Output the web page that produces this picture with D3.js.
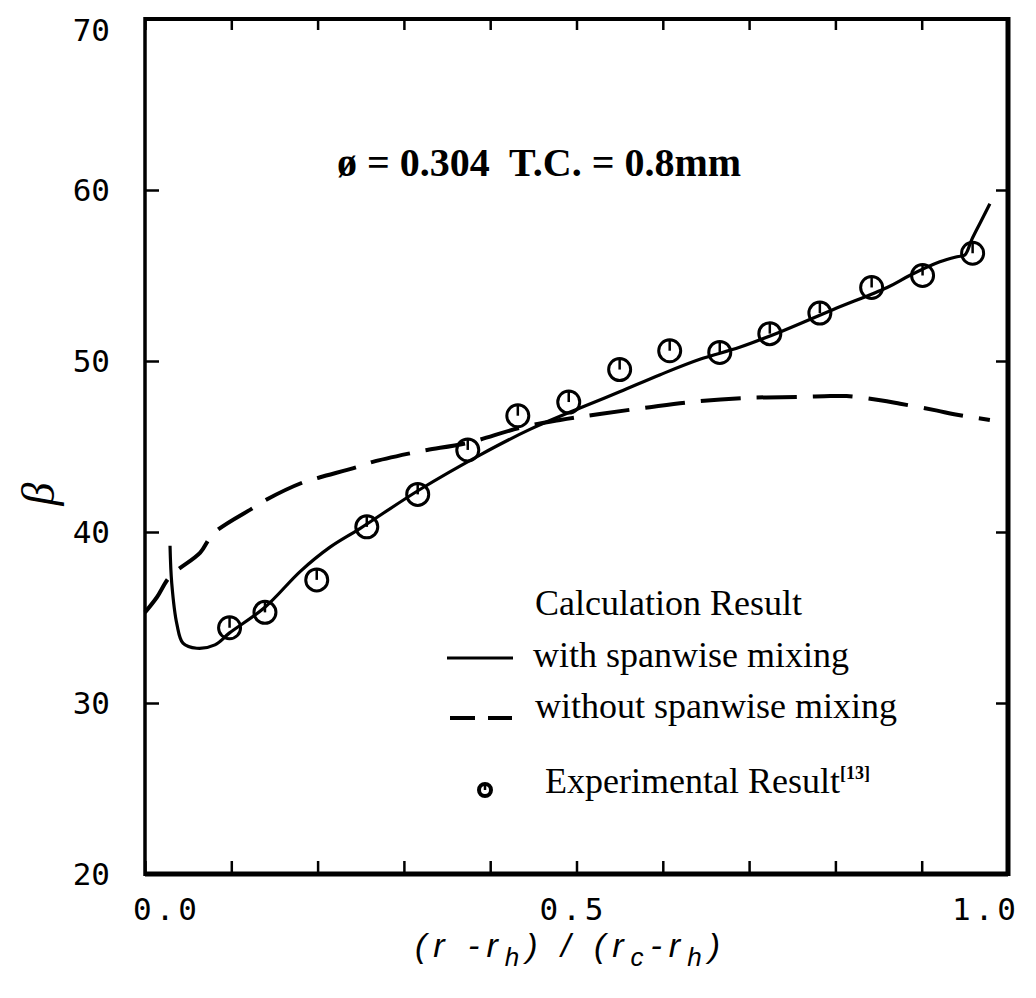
<!DOCTYPE html>
<html>
<head>
<meta charset="utf-8">
<script src="https://cdn.jsdelivr.net/npm/d3@7"></script>
<style>
  body { margin: 0; background: #fff; }
  svg { display: block; }
</style>
</head>
<body>
<div id="chart"></div>
<script>
// experimental points (circles)
var expX = [0.098, 0.139, 0.199, 0.257, 0.316, 0.374, 0.432, 0.491, 0.55, 0.608, 0.666, 0.724, 0.782, 0.842, 0.901, 0.959];
var expY = [34.4, 35.3, 37.2, 40.3, 42.2, 44.8, 46.8, 47.6, 49.5, 50.6, 50.5, 51.6, 52.8, 54.3, 55.0, 56.3];

// calculation with spanwise mixing (solid)
var withX = [0.029, 0.031, 0.037, 0.044, 0.06, 0.081, 0.098, 0.139, 0.18, 0.214, 0.249, 0.319, 0.388, 0.446, 0.504, 0.55, 0.597, 0.643, 0.689, 0.736, 0.797, 0.86, 0.886, 0.921, 0.941, 0.95, 0.958, 0.968, 0.979];
var withY = [39.2, 37.0, 34.6, 33.5, 33.2, 33.4, 34.1, 35.6, 37.7, 39.1, 40.2, 42.5, 44.5, 46.0, 47.25, 48.2, 49.2, 50.1, 50.8, 51.7, 53.0, 54.3, 55.0, 55.8, 56.1, 56.2, 57.1, 58.1, 59.2];

// calculation without spanwise mixing (dashed)
var withoutX = [0.0, 0.014, 0.029, 0.064, 0.079, 0.125, 0.141, 0.183, 0.203, 0.246, 0.264, 0.307, 0.327, 0.373, 0.435, 0.481, 0.527, 0.585, 0.643, 0.701, 0.759, 0.794, 0.813, 0.852, 0.875, 0.918, 0.936, 0.979];
var withoutY = [35.3, 36.2, 37.4, 38.8, 39.9, 41.4, 41.9, 42.9, 43.2, 43.8, 44.1, 44.6, 44.8, 45.2, 46.1, 46.55, 46.9, 47.3, 47.65, 47.85, 47.9, 47.95, 47.95, 47.7, 47.5, 47.1, 46.9, 46.55];

var yTicks = [20, 30, 40, 50, 60, 70];
var xLabels = [0, 0.5, 1.0];

var W = 1036, H = 998;
var x = d3.scaleLinear().domain([0, 1]).range([145, 1008]);
var y = d3.scaleLinear().domain([20, 70]).range([874, 19]);

var svg = d3.select("#chart").append("svg")
  .attr("width", W)
  .attr("height", H);

// ticks on all four sides, pointing inward
svg.append("g")
  .attr("transform", "translate(0," + y(20) + ")")
  .call(d3.axisBottom(x).tickValues(d3.range(0, 1.001, 0.1)).tickSize(-13).tickFormat(""))
  .call(g => g.select(".domain").remove());
svg.append("g")
  .attr("transform", "translate(0," + y(70) + ")")
  .call(d3.axisTop(x).tickValues(d3.range(0, 1.001, 0.1)).tickSize(-11).tickFormat(""))
  .call(g => g.select(".domain").remove());
svg.append("g")
  .attr("transform", "translate(" + x(0) + ",0)")
  .call(d3.axisLeft(y).tickValues(yTicks).tickSize(-14).tickFormat(""))
  .call(g => g.select(".domain").remove());
svg.append("g")
  .attr("transform", "translate(" + x(1) + ",0)")
  .call(d3.axisRight(y).tickValues(yTicks).tickSize(-12).tickFormat(""))
  .call(g => g.select(".domain").remove());
svg.selectAll(".tick line").attr("stroke", "#000").attr("stroke-width", 2.5);

// frame
svg.append("line").attr("x1", x(0)).attr("x2", x(1)).attr("y1", y(20)).attr("y2", y(20))
  .attr("stroke", "#000").attr("stroke-width", 5);
svg.append("line").attr("x1", x(0)).attr("x2", x(1)).attr("y1", y(70)).attr("y2", y(70))
  .attr("stroke", "#000").attr("stroke-width", 4);
svg.append("line").attr("x1", x(0)).attr("x2", x(0)).attr("y1", y(70) - 2).attr("y2", y(20) + 2)
  .attr("stroke", "#000").attr("stroke-width", 3.5);
svg.append("line").attr("x1", x(1)).attr("x2", x(1)).attr("y1", y(70) - 2).attr("y2", y(20) + 2)
  .attr("stroke", "#000").attr("stroke-width", 5);

// y tick labels
svg.selectAll(".ylab")
  .data(yTicks)
  .enter()
  .append("text")
  .attr("class", "ylab")
  .attr("x", 110)
  .attr("y", d => y(d) + (d === 70 ? 11 : 0))
  .attr("dy", "0.36em")
  .attr("text-anchor", "end")
  .style("font-family", "DejaVu Sans Mono")
  .style("font-size", "31px")
  .text(d => d);

// x tick labels
svg.selectAll(".xlab")
  .data(xLabels)
  .enter()
  .append("text")
  .attr("class", "xlab")
  .attr("x", d => x(d) + (d === 0 ? 22 : d === 1 ? -22 : -3))
  .attr("y", 920)
  .attr("text-anchor", "middle")
  .style("font-family", "DejaVu Sans Mono")
  .style("font-size", "31px")
  .style("letter-spacing", "4px")
  .text(d => d3.format(".1f")(d));

// axis titles
var xt = svg.append("text")
  .attr("x", 415)
  .attr("y", 957)
  .style("font-family", "Liberation Sans")
  .style("font-style", "italic")
  .style("font-size", "34px")
  .style("letter-spacing", "7px");
xt.append("tspan").text("(r\u00a0-r");
xt.append("tspan").attr("dy", 9).style("font-size", "26px").text("h");
xt.append("tspan").attr("dy", -9).text(")\u00a0/\u00a0(r");
xt.append("tspan").attr("dy", 9).style("font-size", "26px").text("c");
xt.append("tspan").attr("dy", -9).text("-r");
xt.append("tspan").attr("dy", 9).style("font-size", "26px").text("h");
xt.append("tspan").attr("dy", -9).text(")");

svg.append("text")
  .attr("transform", "translate(54,494) rotate(-90)")
  .attr("text-anchor", "middle")
  .style("font-family", "Liberation Serif")
  .style("font-style", "italic")
  .style("font-size", "46px")
  .text("β");

svg.append("text")
  .attr("x", 337)
  .attr("y", 176)
  .style("font-family", "Liberation Serif")
  .style("font-weight", "bold")
  .style("font-size", "40px")
  .style("white-space", "pre")
  .text("ø = 0.304  T.C. = 0.8mm");

// curves
var line = d3.line()
  .x(d => x(d[0]))
  .y(d => y(d[1]))
  .curve(d3.curveCatmullRom.alpha(0.5));

svg.append("path")
  .datum(withX.map((v, i) => [v, withY[i]]))
  .attr("d", line)
  .attr("fill", "none")
  .attr("stroke", "#000")
  .attr("stroke-width", 3.2);

svg.append("path")
  .datum(withoutX.map((v, i) => [v, withoutY[i]]))
  .attr("d", line)
  .attr("fill", "none")
  .attr("stroke", "#000")
  .attr("stroke-width", 4)
  .attr("stroke-dasharray", "40,16");

// experimental markers: circle with a short stroke from top to centre
function marker(g, r, w) {
  g.append("circle").attr("r", r).attr("fill", "none").attr("stroke", "#000").attr("stroke-width", w);
  g.append("line").attr("x1", 0).attr("x2", 0).attr("y1", -r).attr("y2", 0)
    .attr("stroke", "#000").attr("stroke-width", 2.5);
}
svg.selectAll(".pt")
  .data(expX.map((v, i) => [v, expY[i]]))
  .enter()
  .append("g")
  .attr("class", "pt")
  .attr("transform", d => "translate(" + x(d[0]) + "," + y(d[1]) + ")")
  .each(function () { marker(d3.select(this), 11, 3); });

// legend
var leg = svg.append("g")
  .style("font-family", "Liberation Serif")
  .style("font-size", "36px");
leg.append("text").attr("x", 535).attr("y", 615).text("Calculation Result");
leg.append("line").attr("x1", 447).attr("x2", 513).attr("y1", 658).attr("y2", 658)
  .attr("stroke", "#000").attr("stroke-width", 3);
leg.append("text").attr("x", 533).attr("y", 667).text("with spanwise mixing");
leg.append("line").attr("x1", 450).attr("x2", 512).attr("y1", 718).attr("y2", 718)
  .attr("stroke", "#000").attr("stroke-width", 4).attr("stroke-dasharray", "25,13");
leg.append("text").attr("x", 535).attr("y", 718).text("without spanwise mixing");
var lm = leg.append("g").attr("transform", "translate(485,790)");
marker(lm, 6, 4);
var er = leg.append("text").attr("x", 545).attr("y", 793).text("Experimental Result");
er.append("tspan").attr("dy", -14).style("font-size", "18px").style("font-weight", "bold").text("[13]");
</script>
</body>
</html>
